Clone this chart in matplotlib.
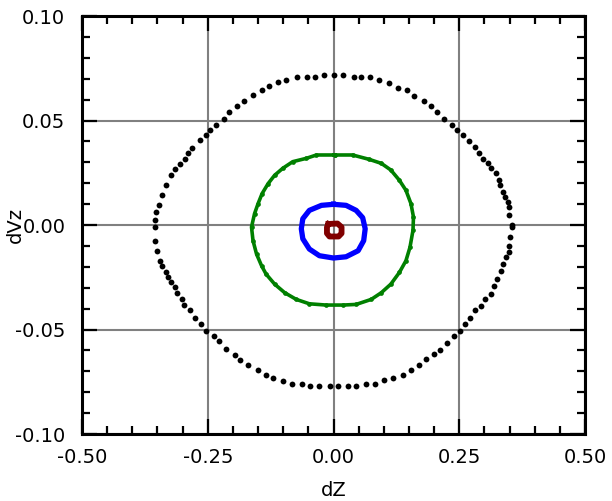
import numpy as np
import matplotlib
matplotlib.use("Agg")
import matplotlib.pyplot as plt
from matplotlib.ticker import MultipleLocator, FormatStrFormatter

# ==========================================
# Data (dZ, dVz)
# ==========================================

outer_dz = [
    0.000, -0.018, -0.036, -0.053, -0.073, -0.094, -0.110, -0.128, -0.143, -0.160,
    -0.177, -0.192, -0.207, -0.217, -0.233, -0.246, -0.254, -0.266, -0.281, -0.289,
    -0.296, -0.306, -0.316, -0.324, -0.333, -0.341, -0.347, -0.353, -0.354,
    -0.354, -0.354, -0.351, -0.345, -0.341, -0.333, -0.329, -0.323, -0.316, -0.312,
    -0.301, -0.297, -0.285, -0.276, -0.264, -0.254, -0.238, -0.227, -0.213, -0.196,
    -0.186, -0.170, -0.150, -0.134, -0.120, -0.101, -0.083, -0.063, -0.046, -0.028,
    -0.007,
    0.009, 0.028, 0.045, 0.065, 0.082, 0.101, 0.118, 0.138, 0.154, 0.170,
    0.184, 0.200, 0.212, 0.225, 0.240, 0.251, 0.262, 0.271, 0.282, 0.293,
    0.301, 0.313, 0.319, 0.326, 0.333, 0.337, 0.343, 0.348, 0.349, 0.351,
    0.354,
    0.354, 0.349, 0.349, 0.346, 0.341, 0.337, 0.331, 0.329, 0.323, 0.313,
    0.307, 0.298, 0.290, 0.281, 0.270, 0.257, 0.245, 0.236, 0.220, 0.205,
    0.194, 0.179, 0.161, 0.146, 0.128, 0.110, 0.091, 0.073, 0.055, 0.040,
    0.019,
]
outer_dvz = [
    0.0720, 0.0720, 0.0707, 0.0709, 0.0709, 0.0696, 0.0683, 0.0667, 0.0645, 0.0620,
    0.0593, 0.0569, 0.0543, 0.0507, 0.0479, 0.0455, 0.0431, 0.0407, 0.0367, 0.0343,
    0.0314, 0.0291, 0.0266, 0.0239, 0.0190, 0.0142, 0.0094, 0.0062, 0.0022,
    -0.0010, -0.0075, -0.0123, -0.0171, -0.0195, -0.0227, -0.0251, -0.0271, -0.0296, -0.0324,
    -0.0356, -0.0383, -0.0409, -0.0444, -0.0476, -0.0505, -0.0532, -0.0556, -0.0592, -0.0620,
    -0.0645, -0.0669, -0.0693, -0.0717, -0.0730, -0.0746, -0.0760, -0.0762, -0.0768, -0.0768,
    -0.0768,
    -0.0768, -0.0768, -0.0768, -0.0762, -0.0762, -0.0744, -0.0730, -0.0720, -0.0693, -0.0669,
    -0.0642, -0.0617, -0.0596, -0.0565, -0.0532, -0.0505, -0.0473, -0.0444, -0.0409, -0.0388,
    -0.0356, -0.0331, -0.0291, -0.0259, -0.0219, -0.0187, -0.0155, -0.0131, -0.0099, -0.0059,
    -0.0010,
    0.0000, 0.0046, 0.0086, 0.0110, 0.0134, 0.0158, 0.0190, 0.0214, 0.0247, 0.0271,
    0.0295, 0.0314, 0.0343, 0.0372, 0.0402, 0.0431, 0.0455, 0.0479, 0.0507, 0.0540,
    0.0567, 0.0593, 0.0619, 0.0645, 0.0656, 0.0680, 0.0693, 0.0707, 0.0707, 0.0707,
    0.0720,
]

green_dz = [
    0.002, -0.034, -0.054, -0.081, -0.101, -0.117, -0.130, -0.142, -0.150, -0.157,
    -0.163, -0.160, -0.153, -0.143, -0.134, -0.117, -0.097, -0.074, -0.048, -0.015,
    0.019, 0.045, 0.075, 0.095, 0.114, 0.131, 0.144, 0.152, 0.158, 0.159,
    0.154, 0.144, 0.131, 0.114, 0.095, 0.071, 0.038, 0.002,
]
green_dvz = [
    0.0335, 0.0335, 0.0319, 0.0303, 0.0271, 0.0238, 0.0198, 0.0150, 0.0102, 0.0054,
    -0.0010, -0.0075, -0.0139, -0.0195, -0.0235, -0.0283, -0.0324, -0.0356, -0.0377, -0.0383,
    -0.0383, -0.0380, -0.0356, -0.0324, -0.0283, -0.0227, -0.0171, -0.0107, -0.0026, 0.0038,
    0.0102, 0.0166, 0.0214, 0.0263, 0.0295, 0.0314, 0.0335, 0.0335,
]

blue_dz = [
    0.000, 0.025, 0.045, 0.058, 0.063, 0.060, 0.049, 0.025, 0.000, -0.028,
    -0.048, -0.061, -0.064, -0.061, -0.048, -0.024, 0.000,
]
blue_dvz = [
    0.0099, 0.0094, 0.0070, 0.0035, -0.0018, -0.0075, -0.0123, -0.0152, -0.0158, -0.0147,
    -0.0115, -0.0066, -0.0018, 0.0030, 0.0070, 0.0094, 0.0099,
]

red_dz = [-0.010, 0.008, 0.016, 0.016, 0.010, -0.008, -0.013, -0.013, -0.010]
red_dvz = [0.0005, 0.0007, -0.0010, -0.0040, -0.0055, -0.0055, -0.0040, -0.0010, 0.0005]

x_ticks = [-0.50, -0.25, 0.00, 0.25, 0.50]
y_ticks = [-0.10, -0.05, 0.00, 0.05, 0.10]

# ==========================================
# Plot
# ==========================================

plt.rcParams["font.family"] = "DejaVu Sans"
plt.rcParams["axes.unicode_minus"] = False

fig = plt.figure(figsize=(6.12, 5.01), dpi=100)
ax = fig.add_axes([82 / 612, 1 - 434 / 501, 503 / 612, 418 / 501])

ax.plot(outer_dz, outer_dvz, "o", color="black", ms=4.2, mew=0, zorder=3)
ax.plot(green_dz, green_dvz, "-o", color="#008000", lw=2.6, ms=3.4, mew=0, zorder=3)
ax.plot(blue_dz, blue_dvz, "-", color="#0000ff", lw=3.8, solid_joinstyle="round", zorder=4)
ax.plot(red_dz, red_dvz, "-", color="#800000", lw=4.2, solid_joinstyle="round", zorder=5)

ax.set_xlim(-0.5, 0.5)
ax.set_ylim(-0.10, 0.10)
ax.set_xticks(x_ticks)
ax.set_yticks(y_ticks)
ax.xaxis.set_minor_locator(MultipleLocator(0.05))
ax.yaxis.set_minor_locator(MultipleLocator(0.01))
ax.xaxis.set_major_formatter(FormatStrFormatter("%.2f"))
ax.yaxis.set_major_formatter(FormatStrFormatter("%.2f"))

ax.grid(True, which="major", color="#808080", lw=1.5, zorder=1)
ax.set_axisbelow(True)

ax.tick_params(which="both", direction="in", top=True, right=True, width=1.6, colors="black")
ax.tick_params(which="major", length=11, pad=10, labelsize=14)
ax.tick_params(axis="y", which="major", pad=12)
ax.tick_params(which="minor", length=5.5)
for s in ax.spines.values():
    s.set_linewidth(2.2)

ax.set_xlabel("dZ", fontsize=14)
ax.set_ylabel("dVz", fontsize=14)
ax.xaxis.set_label_coords(0.5, -0.112)
ax.yaxis.set_label_coords(-0.113, 0.5)

fig.savefig("out.png", dpi=100)
